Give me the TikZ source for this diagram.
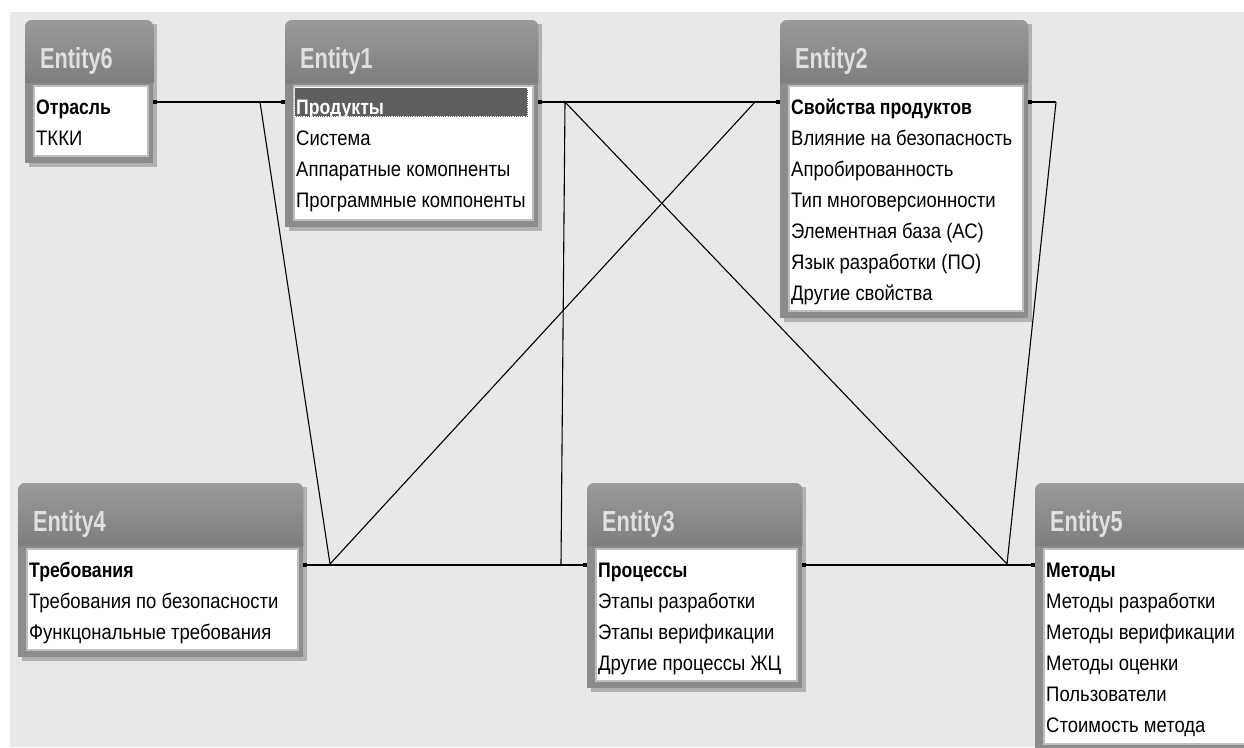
\documentclass[tikz,border=0pt]{standalone}
\usepackage{fontspec}
\setmainfont{Liberation Sans}
\newfontfamily\rowfont[FakeStretch=0.88]{Liberation Sans}
\newfontfamily\keyfont[FakeStretch=0.84]{Liberation Sans}
\newfontfamily\titlefont[FakeStretch=0.75]{Liberation Sans}
\usetikzlibrary{calc,positioning,arrows.meta}

\definecolor{canvas}{HTML}{E8E8E8}
\definecolor{framegray}{HTML}{8C8C8C}
\definecolor{headtop}{HTML}{9A9A9A}
\definecolor{headbot}{HTML}{7E7E7E}
\definecolor{titlegray}{HTML}{E0E0E0}
\definecolor{selgray}{HTML}{5E5E5E}

% entity: id, x, y, width, height, title
\newcommand{\entbox}[6]{%
  \fill[black!30] (#2+4,#3+4) rectangle ++(#4,#5);
  \node[entframe, minimum width=#4, minimum height=#5, anchor=north west] (#1) at (#2,#3) {};
  \fill[framegray] ($(#1.south west)+(0,-12)$) rectangle (#1.south east);
  \path[headshade] (#1.north west) [rounded corners=7] -- ($(#1.north east)$) [sharp corners] -- ($(#1.north east)+(0,63)$) -- ($(#1.north west)+(0,63)$) [rounded corners=7] -- cycle;
  \node[titletext, anchor=base west] (#1-t) at ($(#1.north west)+(15,48)$) {#6};
  \node[bodybox, anchor=north west, minimum width=#4-14, minimum height=#5-73] (#1-b) at ($(#1.north west)+(8,65)$) {};
  \coordinate (#1-w) at ($(#1.north west)+(0,82)$);
  \coordinate (#1-e) at ($(#1.north east)+(0,82)$);
}
% rows: id, key row, other rows
\newcommand{\entrows}[3]{%
  \node[keytext, anchor=base west] (#1-k) at ($(#1.north west)+(11,94)$) {#2};
  \foreach \r [count=\i] in {#3}
    \node[rowtext, anchor=base west] (#1-r\i) at ($(#1.north west)+(11,94+31*\i)$) {\r};
}

\begin{document}
\begin{tikzpicture}[
  x=1pt, y=-1pt,
  entframe/.style = {fill=framegray, rounded corners=7, inner sep=0},
  headshade/.style = {top color=headtop, bottom color=headbot},
  titletext/.style = {inner sep=0, text=titlegray, font=\titlefont\bfseries\fontsize{29}{30}\selectfont},
  bodybox/.style = {fill=white, draw=black!25, line width=1.5pt, inner sep=0},
  rowtext/.style = {inner sep=0, font=\rowfont\fontsize{21}{25}\selectfont},
  keytext/.style = {inner sep=0, font=\keyfont\bfseries\fontsize{21}{25}\selectfont},
  selbar/.style = {fill=selgray, draw=white!75, densely dotted, line width=1.2pt, inner sep=0},
  link/.style = {line width=1.6pt, {Square[length=4pt,width=4pt]}-{Square[length=4pt,width=4pt]}},
  halflink/.style = {line width=1.6pt, {Square[length=4pt,width=4pt]}-},
  thinlink/.style = {line width=1.1pt}
  ]
  \useasboundingbox (0,0) rectangle (1244,747);
  \fill[white] (0,0) rectangle (1244,747);
  \fill[canvas] (10,12) rectangle (1244,747);

  \entbox{ent6}{25}{20}{128}{143}{Entity6}
  \entrows{ent6}{Отрасль}{{ТККИ}}

  \entbox{ent1}{285}{20}{253}{207}{Entity1}
  \node[selbar, minimum width=233, minimum height=29, anchor=north west] (ent1-sel) at ($(ent1.north west)+(9,67)$) {};
  \entrows{ent1}{\textcolor{white}{Продукты}}{{Система},{Аппаратные комопненты},{Программные компоненты}}

  \entbox{ent2}{780}{20}{248}{298}{Entity2}
  \entrows{ent2}{Свойства продуктов}{{Влияние на безопасность},{Апробированность},{Тип многоверсионности},{Элементная база (АС)},{Язык разработки (ПО)},{Другие свойства}}

  \entbox{ent4}{18}{483}{285}{174}{Entity4}
  \entrows{ent4}{Требования}{{Требования по безопасности},{Функцональные требования}}

  \entbox{ent3}{587}{483}{215}{205}{Entity3}
  \entrows{ent3}{Процессы}{{Этапы разработки},{Этапы верификации},{Другие процессы ЖЦ}}

  \entbox{ent5}{1035}{483}{225}{268}{Entity5}
  \entrows{ent5}{Методы}{{Методы разработки},{Методы верификации},{Методы оценки},{Пользователи},{Стоимость метода}}

  % junctions
  \coordinate (j61) at (260,102);
  \coordinate (j4)  at (330,564);
  \coordinate (j12) at (755,102);
  \coordinate (jm)  at (565,102);
  \coordinate (j3)  at (561,564);
  \coordinate (j5)  at (1007,564);
  \coordinate (j2)  at (1056,102);

  \draw[link] (ent6-e) -- (ent1-w);
  \draw[link] (ent1-e) -- (ent2-w);
  \draw[link] (ent4-e) -- (ent3-w);
  \draw[link] (ent3-e) -- (ent5-w);
  \draw[halflink] (ent2-e) -- (j2);

  \draw[thinlink] (j61) -- (j4) -- (j12);
  \draw[thinlink] (j3) -- (jm) -- (j5) -- (j2);

\end{tikzpicture}
\end{document}
